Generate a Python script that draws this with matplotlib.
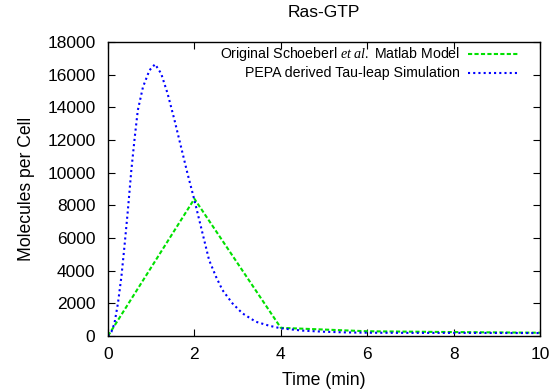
import matplotlib
matplotlib.use("Agg")
import matplotlib.pyplot as plt
from matplotlib.lines import Line2D

plt.rcParams['font.family'] = ['Liberation Sans', 'DejaVu Sans']
plt.rcParams['mathtext.fontset'] = 'custom'
plt.rcParams['mathtext.it'] = 'Liberation Serif:italic'
plt.rcParams['mathtext.rm'] = 'Liberation Serif'

title = "Ras-GTP"
xlabel = "Time (min)"
ylabel = "Molecules per Cell"
label_matlab = r"Original Schoeberl $\mathit{et\ al.}$ Matlab Model"
label_pepa = "PEPA derived Tau-leap Simulation"

matlab_t = [0, 2, 4, 6, 8, 10]
matlab_v = [0, 8400, 500, 290, 240, 200]

pepa_t = [0, 0.08, 0.15, 0.23, 0.31, 0.38, 0.46, 0.54, 0.62, 0.69, 0.81, 0.96,
          1.09, 1.23, 1.38, 1.54, 1.69, 1.84, 2.0, 2.17, 2.34, 2.5, 2.65, 2.88,
          3.11, 3.42, 3.73, 4.0, 4.5, 5.0, 5.5, 6.0, 7.0, 8.0, 9.0, 10.0]
pepa_v = [0, 263, 777, 2000, 3630, 5460, 7700, 10150, 12190, 13820, 15250, 16270,
          16640, 16070, 14840, 13210, 11580, 9950, 8320, 6480, 4650, 3630, 2810, 2000,
          1390, 875, 630, 470, 330, 260, 220, 200, 190, 190, 185, 180]

xticks = [0, 2, 4, 6, 8, 10]
yticks = list(range(0, 18001, 2000))

fig = plt.figure(figsize=(5.53, 3.89), dpi=100)
ax = fig.add_axes([108/553, 1-336/389, (540-108)/553, (336-42)/389])

green = '#00e000'
blue = '#0000ff'
green_ls = (0, (2, 1.1))
blue_ls = (0, (1, 1.5))
ax.plot(matlab_t, matlab_v, color=green, lw=1.5, linestyle=green_ls)
ax.plot(pepa_t, pepa_v, color=blue, lw=1.5, linestyle=blue_ls)

ax.set_xlim(0, 10)
ax.set_ylim(0, 18000)
ax.set_xticks(xticks)
ax.set_yticks(yticks)
ax.tick_params(direction='in', length=5, width=0.8, top=True, right=True,
               labelsize=12.5, colors='black')
ax.tick_params(axis='y', pad=9)
ax.tick_params(axis='x', pad=8)
for s in ax.spines.values():
    s.set_linewidth(1.0)

ax.set_title(title, fontsize=12.5, pad=18)
ax.set_xlabel(xlabel, fontsize=12.7, labelpad=7)
ax.set_ylabel(ylabel, fontsize=12.7, labelpad=9)

# legend (gnuplot style: right-aligned text, sample on the right)
rows = [(label_matlab, green, green_ls, 54.3), (label_pepa, blue, blue_ls, 73.3)]
for lab, col, ls, ypx in rows:
    yf = 1 - ypx/389
    fig.text(460/553, yf, lab, ha='right', va='center', fontsize=10.2)
    fig.add_artist(Line2D([468/553, 518/553], [yf, yf], color=col, lw=1.5,
                          linestyle=ls, transform=fig.transFigure))

fig.savefig("out.png", dpi=100)
